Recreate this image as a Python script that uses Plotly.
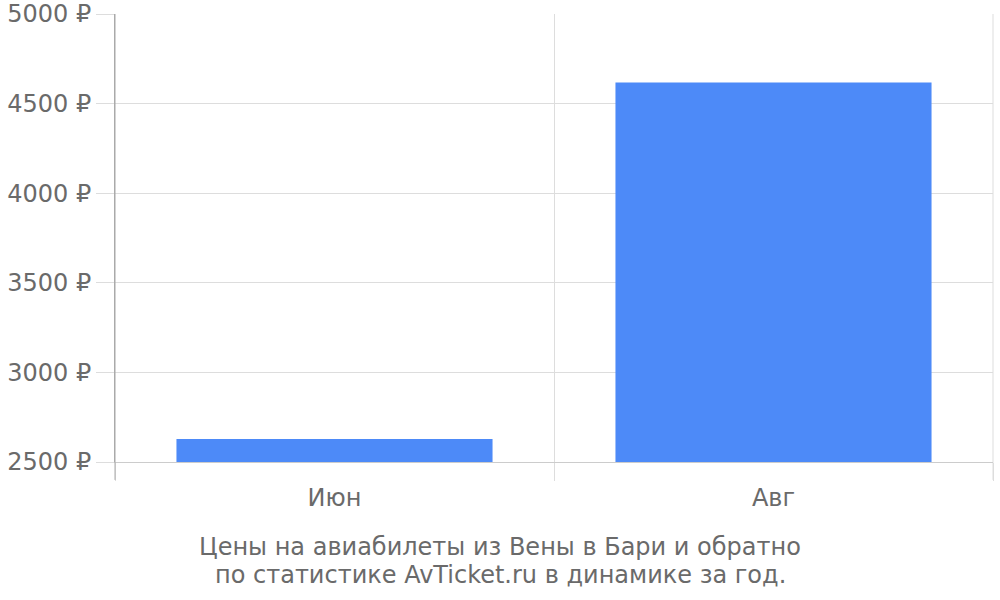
import plotly.graph_objects as go

# Data
months = ["Июн", "Авг"]
prices = [2628, 4618]
y_ticks = [2500, 3000, 3500, 4000, 4500, 5000]
y_tick_labels = [f"{v} ₽" for v in y_ticks]

title_lines = [
    "Цены на авиабилеты из Вены в Бари и обратно",
    "по статистике AvTicket.ru в динамике за год.",
]

fig = go.Figure(go.Bar(
    x=months,
    y=prices,
    marker=dict(color="#4d8af8", line=dict(width=0)),
    width=0.72,
    hoverinfo="x+y",
))

# bottom caption, centred on the page (not the plot), two lines placed separately
caption = []
for i, line in enumerate(title_lines):
    caption.append(dict(
        text=line,
        xref="paper", yref="paper",
        x=0.4385, y=-0.19 - i * 0.0625,
        xanchor="center", yanchor="middle",
        showarrow=False,
        font=dict(size=24, color="#6a6a6a"),
    ))

fig.update_layout(
    width=1000,
    height=600,
    margin=dict(l=115, r=7, t=14, b=138),
    paper_bgcolor="white",
    plot_bgcolor="white",
    font=dict(family="DejaVu Sans", size=24, color="#6a6a6a"),
    showlegend=False,
    annotations=caption,
    shapes=[
        # right-hand boundary gridline with its tick, and the left axis tick
        dict(type="line", xref="paper", yref="paper", x0=1, x1=1, y0=-0.04, y1=1,
             line=dict(color="#dddddd", width=1), layer="below"),
        dict(type="line", xref="paper", yref="paper", x0=0, x1=0, y0=-0.04, y1=1,
             line=dict(color="#aaaaaa", width=1)),
    ],
)

fig.update_xaxes(
    type="category",
    tickson="boundaries",
    ticks="outside",
    ticklen=18,
    tickcolor="#dddddd",
    ticklabelstandoff=14,
    showgrid=True,
    gridcolor="#dddddd",
    showline=True,
    linecolor="#cccccc",
    linewidth=1,
    automargin=False,
    tickfont=dict(size=24, color="#6a6a6a"),
)

fig.update_yaxes(
    range=[2500, 5000],
    tickvals=y_ticks,
    ticktext=y_tick_labels,
    showgrid=True,
    gridcolor="#dddddd",
    showline=True,
    linecolor="#aaaaaa",
    linewidth=1,
    ticks="outside",
    ticklen=18,
    tickcolor="#dddddd",
    ticklabeloverflow="allow",
    zeroline=False,
    automargin=False,
    tickfont=dict(size=24, color="#6a6a6a"),
)

# drop the default body margin so the figure sits at the page corner
fig.write_html(
    "out.html",
    config={"displayModeBar": False},
    post_script="document.body.style.margin='0';",
)
